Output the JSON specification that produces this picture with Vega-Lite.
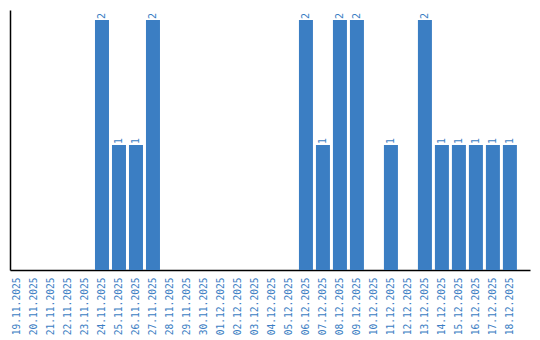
{
  "$schema": "https://vega.github.io/schema/vega-lite/v6.json",
  "width": 520,
  "height": 260,
  "autosize": {"type": "none"},
  "padding": {"left": 10, "top": 10, "right": 10, "bottom": 70},
  "config": {
    "view": {"stroke": null},
    "font": "DejaVu Sans Mono"
  },
  "data": {
    "values": [
      {"date": "19.11.2025", "count": 0},
      {"date": "20.11.2025", "count": 0},
      {"date": "21.11.2025", "count": 0},
      {"date": "22.11.2025", "count": 0},
      {"date": "23.11.2025", "count": 0},
      {"date": "24.11.2025", "count": 2},
      {"date": "25.11.2025", "count": 1},
      {"date": "26.11.2025", "count": 1},
      {"date": "27.11.2025", "count": 2},
      {"date": "28.11.2025", "count": 0},
      {"date": "29.11.2025", "count": 0},
      {"date": "30.11.2025", "count": 0},
      {"date": "01.12.2025", "count": 0},
      {"date": "02.12.2025", "count": 0},
      {"date": "03.12.2025", "count": 0},
      {"date": "04.12.2025", "count": 0},
      {"date": "05.12.2025", "count": 0},
      {"date": "06.12.2025", "count": 2},
      {"date": "07.12.2025", "count": 1},
      {"date": "08.12.2025", "count": 2},
      {"date": "09.12.2025", "count": 2},
      {"date": "10.12.2025", "count": 0},
      {"date": "11.12.2025", "count": 1},
      {"date": "12.12.2025", "count": 0},
      {"date": "13.12.2025", "count": 2},
      {"date": "14.12.2025", "count": 1},
      {"date": "15.12.2025", "count": 1},
      {"date": "16.12.2025", "count": 1},
      {"date": "17.12.2025", "count": 1},
      {"date": "18.12.2025", "count": 1}
    ]
  },
  "encoding": {
    "x": {
      "field": "date",
      "type": "nominal",
      "sort": null,
      "scale": {"paddingInner": 0.176, "paddingOuter": 0.385, "align": 0},
      "axis": {
        "title": null,
        "ticks": false,
        "labelAngle": -90,
        "labelAlign": "right",
        "labelBaseline": "middle",
        "labelPadding": 7,
        "labelFont": "DejaVu Sans Mono",
        "labelFontSize": 9.6,
        "labelColor": "#3b7ec3",
        "domainColor": "#000000",
        "domainWidth": 1.5
      }
    },
    "y": {
      "field": "count",
      "type": "quantitative",
      "scale": {"domain": [0, 2.08], "nice": false},
      "axis": {
        "title": null,
        "labels": false,
        "ticks": false,
        "grid": false,
        "domainColor": "#000000",
        "domainWidth": 1.5
      }
    }
  },
  "layer": [
    {"mark": {"type": "bar", "color": "#3b7ec3"}},
    {
      "transform": [{"filter": "datum.count > 0"}],
      "mark": {
        "type": "text",
        "angle": 270,
        "align": "left",
        "baseline": "middle",
        "dx": 1,
        "font": "DejaVu Sans Mono",
        "fontSize": 10,
        "color": "#3b7ec3"
      },
      "encoding": {"text": {"field": "count", "type": "quantitative"}}
    }
  ]
}
